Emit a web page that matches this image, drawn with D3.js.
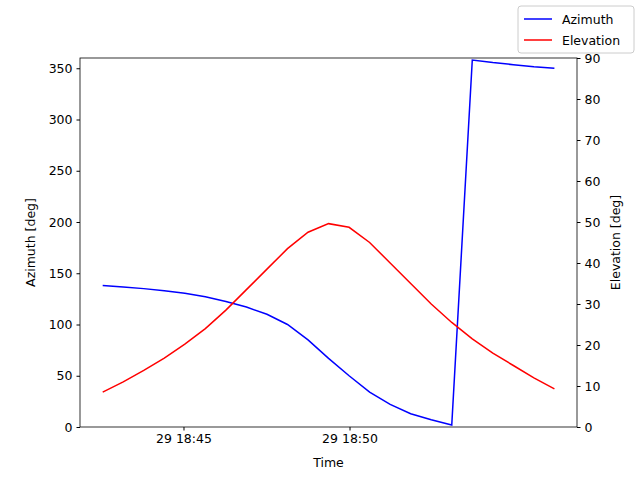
<!DOCTYPE html>
<html>
<head>
<meta charset="utf-8">
<script src="https://cdn.jsdelivr.net/npm/d3@7"></script>
<style>
  body { margin: 0; background: #fff; }
  text { font-family: "DejaVu Sans", sans-serif; }
</style>
</head>
<body>
<div class="canvas"></div>
<script>
// samples every ~37 s starting 18:42:34
const startTime = new Date(2024, 0, 29, 18, 42, 34)
const stepSec = 37.1
const azimuth = [138, 136.5, 135, 133, 130.5, 127, 122.5, 117, 110, 100, 85, 67, 50, 34, 22, 13, 7, 2,
                 358, 355.5, 353.5, 351.5, 350]
const elevation = [8.5, 11, 13.8, 16.8, 20.2, 24, 28.5, 33.5, 38.5, 43.5, 47.5, 49.6, 48.7, 45, 40, 35, 30,
                   25.5, 21.5, 18, 15, 12, 9.3]
const timeTicks = [new Date(2024, 0, 29, 18, 45), new Date(2024, 0, 29, 18, 50)]
const azTicks = [0, 50, 100, 150, 200, 250, 300, 350]
const elTicks = [0, 10, 20, 30, 40, 50, 60, 70, 80, 90]

const times = azimuth.map((d, i) => new Date(startTime.getTime() + i * stepSec * 1000))

const dims = {width: 640, height: 480}
const m = {left: 80, right: 577, top: 58, bottom: 427}

const svg = d3.select('.canvas').append('svg')
    .attr('width', dims.width)
    .attr('height', dims.height)

const x = d3.scaleTime()
    .domain([new Date(2024, 0, 29, 18, 41, 53), new Date(2024, 0, 29, 18, 56, 51)])
    .range([m.left, m.right])
const yAz = d3.scaleLinear().domain([0, 360]).range([m.bottom, m.top])
const yEl = d3.scaleLinear().domain([0, 90]).range([m.bottom, m.top])

const fmt = d3.timeFormat('%d %H:%M')

svg.append('g')
    .attr('transform', `translate(0, ${m.bottom})`)
    .call(d3.axisBottom(x).tickValues(timeTicks).tickFormat(fmt).tickSizeOuter(0).tickSize(3.5).tickPadding(4))
svg.append('g')
    .attr('transform', `translate(${m.left}, 0)`)
    .call(d3.axisLeft(yAz).tickValues(azTicks).tickSizeOuter(0).tickSize(3.5).tickPadding(4))
svg.append('g')
    .attr('transform', `translate(${m.right}, 0)`)
    .call(d3.axisRight(yEl).tickValues(elTicks).tickSizeOuter(0).tickSize(3.5).tickPadding(4))

svg.selectAll('.domain').remove()
svg.selectAll('.tick text').attr('font-size', 12.5).attr('fill', '#000')
svg.selectAll('.tick line').attr('stroke', '#000')

svg.append('rect')
    .attr('x', m.left).attr('y', m.top)
    .attr('width', m.right - m.left).attr('height', m.bottom - m.top)
    .attr('fill', 'none').attr('stroke', '#000').attr('stroke-width', 0.8)

const azLine = d3.line().x((d, i) => x(times[i])).y(d => yAz(d))
const elLine = d3.line().x((d, i) => x(times[i])).y(d => yEl(d))

svg.append('path').datum(azimuth).attr('d', azLine)
    .attr('fill', 'none').attr('stroke', 'blue').attr('stroke-width', 1.5)
svg.append('path').datum(elevation).attr('d', elLine)
    .attr('fill', 'none').attr('stroke', 'red').attr('stroke-width', 1.5)

svg.append('text').attr('x', (m.left + m.right) / 2).attr('y', 467)
    .attr('text-anchor', 'middle').attr('font-size', 12.5).text('Time')
svg.append('text').attr('transform', `translate(35, ${(m.top + m.bottom) / 2}) rotate(-90)`)
    .attr('text-anchor', 'middle').attr('font-size', 12.5).text('Azimuth [deg]')
svg.append('text').attr('transform', `translate(620, ${(m.top + m.bottom) / 2}) rotate(-90)`)
    .attr('text-anchor', 'middle').attr('font-size', 12.5).text('Elevation [deg]')

// legend
const legend = svg.append('g').attr('transform', 'translate(518, 6)')
legend.append('rect').attr('width', 116).attr('height', 47).attr('rx', 3)
    .attr('fill', '#fff').attr('stroke', '#ccc')
const items = [{name: 'Azimuth', color: 'blue'}, {name: 'Elevation', color: 'red'}]
items.forEach((d, i) => {
    const cy = 13 + i * 21
    legend.append('line').attr('x1', 6).attr('x2', 34).attr('y1', cy).attr('y2', cy)
        .attr('stroke', d.color).attr('stroke-width', 1.5)
    legend.append('text').attr('x', 44).attr('y', cy + 4.5).attr('font-size', 12.5).text(d.name)
})
</script>
</body>
</html>
